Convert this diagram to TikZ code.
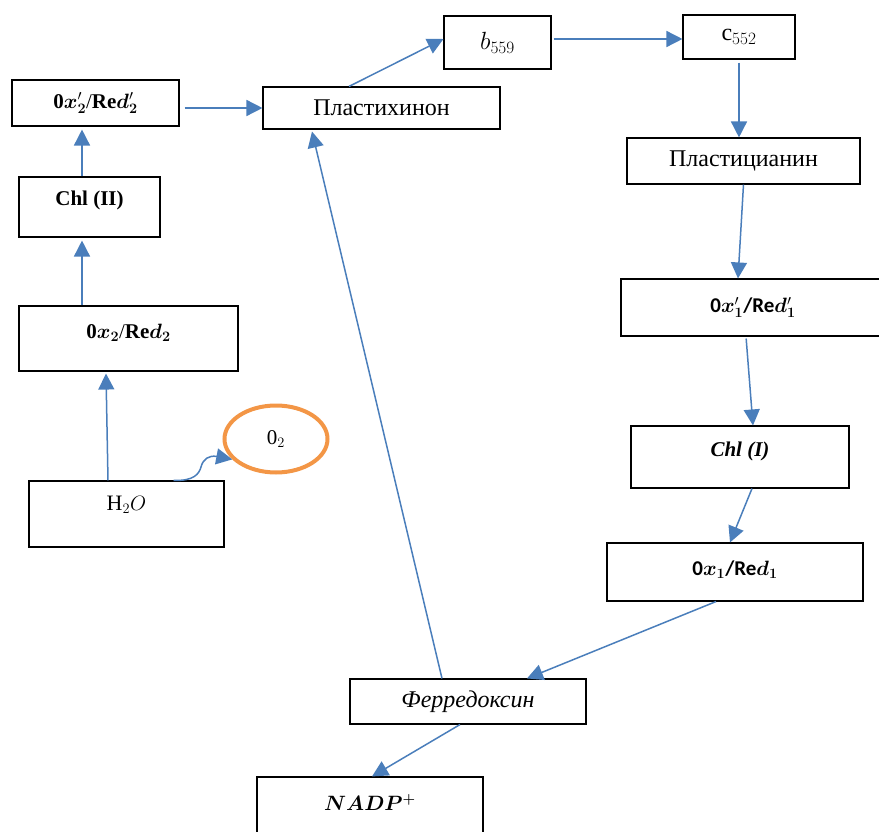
\documentclass[tikz,border=0pt]{standalone}
\usepackage{amsmath}
\usepackage{bm}
\usepackage{fontspec}
\setmainfont{Liberation Serif}
\setsansfont{Carlito}
\usetikzlibrary{arrows.meta,shapes.geometric}
\definecolor{arrowblue}{RGB}{74,126,187}
\definecolor{ovorange}{RGB}{243,150,70}
\newcommand{\oxtwop}{\textbf{0}$\bm{x}'_{\bm{2}}$/\textbf{Re}$\bm{d}'_{\bm{2}}$}
\newcommand{\oxtwo}{\textbf{0}$\bm{x}_{\bm{2}}$/\textbf{Re}$\bm{d}_{\bm{2}}$}
\newcommand{\oxonep}{\textsf{\bfseries 0}$\bm{x}'_{\bm{1}}$\textsf{\bfseries /Re}$\bm{d}'_{\bm{1}}$}
\newcommand{\oxone}{\textsf{\bfseries 0}$\bm{x}_{\bm{1}}$\textsf{\bfseries /Re}$\bm{d}_{\bm{1}}$}
\begin{document}
\begin{tikzpicture}[x=1pt,y=-1pt,
  box/.style={draw=black, line width=1.1pt, rectangle, inner sep=0pt, font=\fontsize{21}{25}\selectfont},
  big/.style={font=\fontsize{24}{28}\selectfont},
  txt/.style={anchor=center, inner sep=0pt, font=\fontsize{21}{25}\selectfont},
  conn/.style={draw=arrowblue, line width=1.5pt, -{Triangle[length=16pt,width=16pt]}}
]
\useasboundingbox (0,0) rectangle (879,832);

% boxes
\node[box, minimum width=167pt, minimum height=46pt] (ox2p) at (95.5,103) {\oxtwop};
\node[box, big, minimum width=237pt, minimum height=42pt] (plast) at (381.5,108) {Пластихинон};
\node[box, big, minimum width=107pt, minimum height=53pt] (b559) at (497.5,42.5) {$b_{559}$};
\node[box, big, minimum width=112pt, minimum height=44pt] (c552) at (739,37) {$\mathrm{c}_{552}$};
\node[box, big, minimum width=233pt, minimum height=46pt] (pcyan) at (743.5,161) {Пластицианин};
\node[box, minimum width=264pt, minimum height=57pt] (ox1p) at (753,307.5) {\oxonep};
\node[box, minimum width=218pt, minimum height=62pt] (chl1) at (740,457) {};
\node[box, minimum width=256pt, minimum height=58pt] (ox1) at (735,572) {};
\node[box, minimum width=141pt, minimum height=60pt] (chl2) at (89.5,207) {};
\node[box, minimum width=219pt, minimum height=65pt] (ox2) at (128.5,338.5) {};
\node[box, minimum width=195pt, minimum height=66pt] (h2o) at (126.5,514) {};
\node[draw=ovorange, line width=4pt, ellipse, inner sep=0pt, minimum width=103pt, minimum height=67pt,
  font=\fontsize{21}{25}\selectfont] (o2) at (276,439) {$\mathrm{0}_2$};
\node[box, big, minimum width=236pt, minimum height=45pt] (ferr) at (468,701.5) {\itshape Ферредоксин};
\node[box, minimum width=226pt, minimum height=73pt] (nadp) at (370,813.5) {};

% texts placed in the upper part of their boxes
\node[txt] (chl1t) at ([yshift=-26pt]chl1.north) {\bfseries\itshape Chl (I)};
\node[txt] (ox1t) at ([yshift=-27pt]ox1.north) {\oxone};
\node[txt] (chl2t) at ([yshift=-24pt]chl2.north) {\bfseries Chl (II)};
\node[txt] (ox2t) at ([yshift=-27pt]ox2.north) {\oxtwo};
\node[txt, font=\fontsize{22}{26}\selectfont] (h2ot) at ([yshift=-24pt]h2o.north) {$\mathrm{H}_2O$};
\node[txt, font=\fontsize{22}{26}\selectfont] (nadpt) at ([yshift=-26pt]nadp.north) {$\bm{NADP^{+}}$};

% connectors
\draw[conn] ([xshift=-7.5pt]chl2.north) -- ([xshift=-13.5pt,yshift=-3pt]ox2p.south);
\draw[conn] ([xshift=-46.5pt]ox2.north) -- ([xshift=-7.5pt,yshift=-3pt]chl2.south);
\draw[conn] ([xshift=-18.5pt]h2o.north) -- ([xshift=-22.5pt,yshift=-2pt]ox2.south);
\draw[conn] ([xshift=47pt]h2o.north) .. controls (194,481) and (199,474) .. (201,467)
  .. controls (203,459) and (209,455) .. (o2.205);
\draw[conn, shorten <=5pt] (ox2p.east |- plast.west) -- (plast.west);
\draw[conn] ([xshift=-32.5pt]plast.north) -- ([yshift=3.5pt]b559.west);
\draw[conn, shorten <=2pt] ([yshift=3.5pt]b559.east) -- ([yshift=3.5pt]b559.east -| c552.west);
\draw[conn, shorten <=3pt] (c552.south) -- (c552.south |- pcyan.north);
\draw[conn] (pcyan.south) -- ([xshift=-15pt]ox1p.north);
\draw[conn, shorten <=2pt] ([xshift=-7pt]ox1p.south) -- ([xshift=13pt]chl1.north);
\draw[conn] ([xshift=12pt]chl1.south) -- ([xshift=-5pt]ox1.north);
\draw[conn] ([xshift=-19pt]ox1.south) -- ([xshift=59pt]ferr.north);
\draw[conn] ([xshift=-26pt]ferr.north) -- ([xshift=-69.5pt,yshift=-2pt]plast.south);
\draw[conn] ([xshift=-8pt]ferr.south) -- ([xshift=2pt]nadp.north);
\end{tikzpicture}
\end{document}
